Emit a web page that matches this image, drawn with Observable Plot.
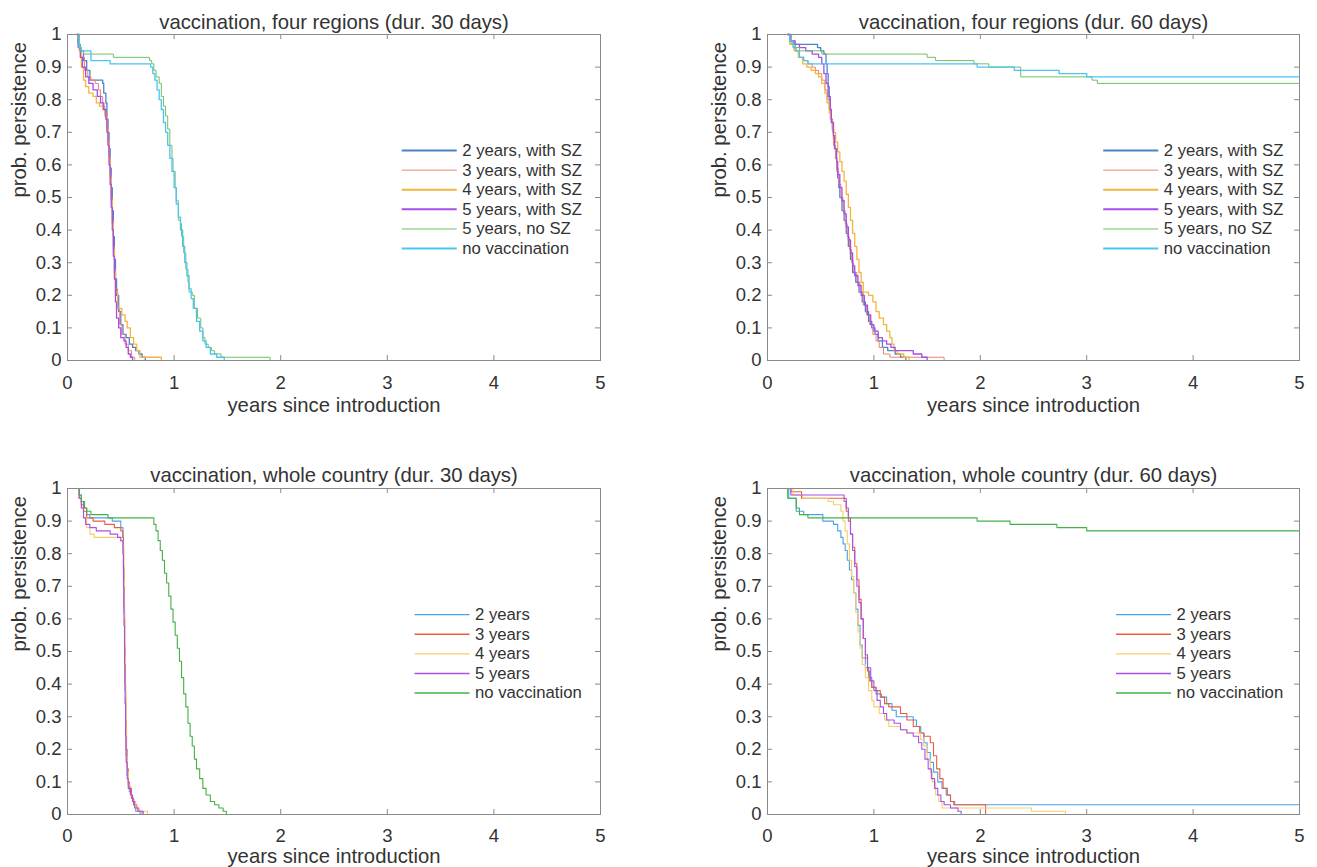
<!DOCTYPE html>
<html><head><meta charset="utf-8">
<script src="https://cdn.jsdelivr.net/npm/d3@7"></script>
<script src="https://cdn.jsdelivr.net/npm/@observablehq/plot@0.6"></script>
<style>
html,body{margin:0;padding:0;background:#fff;}
#root{position:relative;width:1317px;height:867px;overflow:hidden;font-family:"Liberation Sans",Arial,sans-serif;}
.panel{position:absolute;}
</style></head><body><div id="root"></div>
<script>
// ---------- tick values & texts ----------
const xTicks = [0, 1, 2, 3, 4, 5];
const yTicks = [0, 0.1, 0.2, 0.3, 0.4, 0.5, 0.6, 0.7, 0.8, 0.9, 1];
const panelTitles = [
  "vaccination, four regions (dur. 30 days)",
  "vaccination, four regions (dur. 60 days)",
  "vaccination, whole country (dur. 30 days)",
  "vaccination, whole country (dur. 60 days)"
];
const xLabel = "years since introduction";
const yLabel = "prob. persistence";
const regionLabels = ["2 years, with SZ", "3 years, with SZ", "4 years, with SZ", "5 years, with SZ", "5 years, no SZ", "no vaccination"];
const countryLabels = ["2 years", "3 years", "4 years", "5 years", "no vaccination"];

// ---------- series: [years, probability] step points ----------
// four regions, 30 days
const fr30_2y = [[0.09,1],[0.10,0.97],[0.12,0.95],[0.15,0.92],[0.18,0.89],[0.21,0.86],[0.33,0.85],[0.34,0.82],[0.36,0.79],[0.37,0.74],[0.38,0.70],[0.39,0.65],[0.40,0.59],[0.41,0.53],[0.42,0.46],[0.43,0.38],[0.44,0.31],[0.45,0.25],[0.46,0.20],[0.48,0.15],[0.50,0.11],[0.52,0.08],[0.55,0.07],[0.58,0.05],[0.61,0.04],[0.64,0.03],[0.67,0.02],[0.70,0.01],[0.73,0]];
const fr30_3y = [[0.09,1],[0.11,0.96],[0.13,0.93],[0.16,0.89],[0.19,0.87],[0.22,0.86],[0.26,0.85],[0.29,0.83],[0.31,0.81],[0.33,0.78],[0.35,0.76],[0.37,0.72],[0.38,0.68],[0.39,0.63],[0.40,0.57],[0.41,0.50],[0.42,0.43],[0.43,0.35],[0.44,0.28],[0.45,0.22],[0.47,0.16],[0.49,0.11],[0.51,0.08],[0.54,0.05],[0.57,0.03],[0.60,0.01],[0.63,0]];
const fr30_4y = [[0.09,1],[0.11,0.95],[0.13,0.90],[0.15,0.86],[0.17,0.84],[0.20,0.82],[0.24,0.81],[0.27,0.79],[0.30,0.78],[0.33,0.77],[0.35,0.75],[0.37,0.71],[0.38,0.67],[0.39,0.62],[0.40,0.56],[0.41,0.49],[0.42,0.42],[0.43,0.34],[0.44,0.27],[0.45,0.21],[0.47,0.16],[0.51,0.14],[0.54,0.12],[0.56,0.10],[0.59,0.07],[0.62,0.05],[0.65,0.03],[0.68,0.01],[0.88,0]];
const fr30_5y = [[0.09,1],[0.10,0.96],[0.12,0.93],[0.14,0.90],[0.17,0.87],[0.20,0.85],[0.24,0.83],[0.28,0.81],[0.31,0.79],[0.34,0.77],[0.36,0.74],[0.37,0.70],[0.38,0.66],[0.39,0.60],[0.40,0.54],[0.41,0.47],[0.42,0.40],[0.43,0.32],[0.44,0.25],[0.45,0.18],[0.46,0.13],[0.48,0.10],[0.50,0.07],[0.53,0.06],[0.55,0.04],[0.57,0.02],[0.59,0.01],[0.61,0]];
const fr30_noSZ = [[0.09,1],[0.10,0.97],[0.12,0.95],[0.15,0.94],[0.43,0.93],[0.77,0.92],[0.79,0.91],[0.81,0.89],[0.83,0.87],[0.86,0.85],[0.88,0.81],[0.90,0.78],[0.92,0.75],[0.94,0.71],[0.96,0.66],[0.98,0.62],[0.99,0.58],[1.01,0.53],[1.02,0.49],[1.04,0.43],[1.06,0.42],[1.07,0.38],[1.09,0.33],[1.11,0.28],[1.13,0.24],[1.14,0.21],[1.17,0.20],[1.19,0.16],[1.22,0.13],[1.25,0.10],[1.27,0.07],[1.29,0.05],[1.32,0.04],[1.35,0.03],[1.38,0.02],[1.44,0.01],[1.90,0]];
const fr30_none = [[0.09,1],[0.11,0.96],[0.13,0.95],[0.22,0.92],[0.40,0.91],[0.78,0.90],[0.80,0.88],[0.82,0.86],[0.84,0.83],[0.86,0.80],[0.88,0.77],[0.90,0.73],[0.92,0.70],[0.94,0.66],[0.96,0.62],[0.98,0.58],[1.00,0.53],[1.02,0.48],[1.04,0.44],[1.06,0.40],[1.08,0.35],[1.10,0.30],[1.12,0.26],[1.14,0.22],[1.16,0.19],[1.18,0.16],[1.21,0.12],[1.24,0.09],[1.27,0.06],[1.30,0.04],[1.34,0.02],[1.40,0.01],[1.47,0]];
// four regions, 60 days
const fr60_2y = [[0.19,1],[0.21,0.98],[0.25,0.97],[0.47,0.96],[0.50,0.95],[0.53,0.94],[0.55,0.91],[0.56,0.88],[0.57,0.84],[0.58,0.80],[0.59,0.77],[0.60,0.74],[0.61,0.71],[0.62,0.68],[0.63,0.65],[0.64,0.62],[0.65,0.59],[0.66,0.56],[0.67,0.53],[0.68,0.50],[0.70,0.46],[0.72,0.43],[0.74,0.39],[0.76,0.35],[0.78,0.31],[0.80,0.27],[0.83,0.24],[0.86,0.21],[0.89,0.18],[0.92,0.15],[0.95,0.12],[0.98,0.10],[1.01,0.08],[1.04,0.06],[1.08,0.04],[1.13,0.03],[1.20,0.02],[1.25,0.01],[1.30,0]];
const fr60_3y = [[0.19,1],[0.22,0.97],[0.26,0.95],[0.30,0.93],[0.34,0.92],[0.38,0.91],[0.42,0.90],[0.45,0.89],[0.48,0.88],[0.51,0.86],[0.54,0.83],[0.56,0.80],[0.58,0.77],[0.59,0.74],[0.61,0.70],[0.62,0.66],[0.64,0.62],[0.65,0.58],[0.67,0.54],[0.69,0.50],[0.71,0.46],[0.73,0.42],[0.75,0.38],[0.77,0.34],[0.79,0.30],[0.81,0.27],[0.84,0.24],[0.87,0.21],[0.90,0.17],[0.93,0.14],[0.96,0.11],[0.99,0.08],[1.02,0.06],[1.05,0.04],[1.09,0.02],[1.15,0.01],[1.66,0]];
const fr60_4y = [[0.19,1],[0.21,0.97],[0.25,0.95],[0.29,0.93],[0.33,0.91],[0.37,0.90],[0.41,0.89],[0.45,0.88],[0.48,0.87],[0.51,0.85],[0.54,0.82],[0.56,0.79],[0.58,0.76],[0.60,0.73],[0.62,0.70],[0.64,0.67],[0.66,0.64],[0.68,0.61],[0.70,0.58],[0.72,0.55],[0.74,0.51],[0.76,0.47],[0.78,0.43],[0.80,0.39],[0.82,0.35],[0.84,0.31],[0.86,0.27],[0.88,0.24],[0.90,0.21],[0.95,0.20],[0.99,0.18],[1.02,0.15],[1.05,0.13],[1.09,0.11],[1.12,0.09],[1.15,0.07],[1.17,0.05],[1.19,0.03],[1.22,0.02],[1.28,0.01],[1.33,0]];
const fr60_5y = [[0.19,1],[0.22,0.98],[0.26,0.97],[0.30,0.96],[0.36,0.95],[0.42,0.94],[0.48,0.93],[0.51,0.91],[0.53,0.88],[0.55,0.85],[0.57,0.81],[0.59,0.77],[0.60,0.73],[0.62,0.69],[0.63,0.65],[0.65,0.61],[0.66,0.57],[0.68,0.53],[0.70,0.49],[0.72,0.45],[0.74,0.41],[0.76,0.37],[0.78,0.33],[0.80,0.29],[0.82,0.26],[0.85,0.23],[0.88,0.20],[0.91,0.17],[0.94,0.14],[0.97,0.11],[1.00,0.09],[1.04,0.07],[1.08,0.06],[1.12,0.05],[1.16,0.04],[1.20,0.03],[1.37,0.02],[1.45,0.01],[1.50,0]];
const fr60_noSZ = [[0.19,1],[0.21,0.98],[0.23,0.97],[0.26,0.96],[0.30,0.95],[0.51,0.94],[1.50,0.93],[1.58,0.92],[1.94,0.91],[2.08,0.90],[2.38,0.87],[3.05,0.86],[3.10,0.85],[5,0.85]];
const fr60_none = [[0.19,1],[0.21,0.98],[0.24,0.96],[0.27,0.95],[0.30,0.93],[0.34,0.92],[0.38,0.91],[1.97,0.90],[2.32,0.89],[2.74,0.88],[3.00,0.87],[5,0.87]];
// whole country, 30 days
const wc30_2y = [[0.09,1],[0.11,0.98],[0.13,0.96],[0.15,0.94],[0.18,0.92],[0.21,0.91],[0.42,0.90],[0.50,0.88],[0.52,0.85],[0.525,0.75],[0.53,0.62],[0.535,0.50],[0.54,0.38],[0.545,0.27],[0.55,0.18],[0.56,0.12],[0.57,0.09],[0.58,0.07],[0.60,0.05],[0.62,0.03],[0.64,0.01],[0.68,0]];
const wc30_3y = [[0.09,1],[0.11,0.97],[0.13,0.95],[0.15,0.93],[0.18,0.91],[0.24,0.90],[0.35,0.89],[0.44,0.88],[0.50,0.87],[0.52,0.85],[0.525,0.76],[0.53,0.64],[0.535,0.52],[0.54,0.40],[0.545,0.29],[0.55,0.20],[0.56,0.14],[0.57,0.10],[0.58,0.08],[0.60,0.05],[0.62,0.03],[0.65,0.02],[0.67,0.01],[0.70,0]];
const wc30_4y = [[0.09,1],[0.11,0.97],[0.13,0.94],[0.15,0.91],[0.18,0.88],[0.21,0.86],[0.25,0.85],[0.50,0.84],[0.52,0.82],[0.53,0.72],[0.535,0.60],[0.54,0.48],[0.545,0.36],[0.55,0.26],[0.555,0.18],[0.56,0.13],[0.57,0.09],[0.59,0.06],[0.61,0.04],[0.64,0.02],[0.67,0.01],[0.75,0]];
const wc30_5y = [[0.09,1],[0.11,0.97],[0.13,0.94],[0.15,0.91],[0.17,0.89],[0.21,0.88],[0.27,0.87],[0.40,0.86],[0.47,0.85],[0.50,0.84],[0.52,0.80],[0.525,0.70],[0.53,0.58],[0.535,0.46],[0.54,0.34],[0.545,0.24],[0.55,0.16],[0.56,0.11],[0.57,0.08],[0.59,0.06],[0.61,0.04],[0.63,0.02],[0.66,0.01],[0.71,0]];
const wc30_none = [[0.09,1],[0.11,0.98],[0.13,0.96],[0.16,0.94],[0.18,0.93],[0.22,0.92],[0.38,0.91],[0.81,0.89],[0.83,0.87],[0.85,0.84],[0.87,0.81],[0.89,0.78],[0.91,0.74],[0.93,0.71],[0.95,0.67],[0.97,0.63],[0.99,0.59],[1.01,0.55],[1.03,0.51],[1.05,0.47],[1.07,0.42],[1.09,0.37],[1.11,0.33],[1.13,0.28],[1.15,0.24],[1.17,0.21],[1.19,0.17],[1.21,0.14],[1.24,0.11],[1.27,0.08],[1.30,0.06],[1.34,0.04],[1.38,0.03],[1.42,0.02],[1.46,0.01],[1.49,0]];
// whole country, 60 days
const wc60_2y = [[0.18,1],[0.20,0.97],[0.27,0.93],[0.34,0.92],[0.52,0.90],[0.62,0.89],[0.66,0.87],[0.69,0.85],[0.71,0.83],[0.73,0.81],[0.75,0.78],[0.77,0.75],[0.79,0.72],[0.81,0.68],[0.83,0.63],[0.85,0.58],[0.87,0.52],[0.89,0.48],[0.92,0.45],[0.95,0.42],[0.98,0.39],[1.02,0.37],[1.07,0.36],[1.12,0.34],[1.17,0.32],[1.21,0.30],[1.37,0.29],[1.40,0.27],[1.44,0.25],[1.47,0.22],[1.50,0.19],[1.53,0.16],[1.56,0.13],[1.60,0.10],[1.64,0.08],[1.68,0.06],[1.72,0.04],[1.76,0.03],[5,0.03]];
const wc60_3y = [[0.18,1],[0.22,0.99],[0.32,0.97],[0.72,0.96],[0.74,0.93],[0.76,0.90],[0.78,0.86],[0.80,0.82],[0.82,0.77],[0.84,0.72],[0.86,0.66],[0.88,0.60],[0.90,0.54],[0.92,0.48],[0.94,0.44],[0.96,0.41],[0.98,0.39],[1.02,0.38],[1.06,0.36],[1.10,0.34],[1.14,0.33],[1.25,0.31],[1.31,0.29],[1.37,0.27],[1.43,0.25],[1.47,0.24],[1.53,0.22],[1.56,0.18],[1.59,0.14],[1.62,0.11],[1.65,0.08],[1.69,0.06],[1.72,0.04],[1.75,0.03],[2.05,0]];
const wc60_4y = [[0.18,1],[0.24,0.98],[0.33,0.97],[0.57,0.96],[0.62,0.95],[0.69,0.93],[0.71,0.90],[0.73,0.87],[0.75,0.83],[0.77,0.78],[0.79,0.73],[0.81,0.68],[0.83,0.62],[0.85,0.56],[0.87,0.51],[0.89,0.46],[0.92,0.42],[0.95,0.38],[0.98,0.35],[1.00,0.33],[1.05,0.31],[1.10,0.29],[1.14,0.27],[1.25,0.26],[1.31,0.25],[1.44,0.23],[1.47,0.21],[1.50,0.17],[1.53,0.13],[1.55,0.10],[1.58,0.06],[1.61,0.04],[1.64,0.02],[2.48,0.01],[2.80,0]];
const wc60_5y = [[0.18,1],[0.22,0.98],[0.72,0.97],[0.74,0.94],[0.76,0.91],[0.78,0.86],[0.80,0.81],[0.82,0.76],[0.84,0.70],[0.86,0.65],[0.88,0.60],[0.90,0.54],[0.92,0.49],[0.94,0.45],[0.97,0.41],[1.00,0.38],[1.03,0.35],[1.06,0.33],[1.09,0.31],[1.12,0.29],[1.19,0.28],[1.25,0.26],[1.31,0.25],[1.37,0.24],[1.42,0.22],[1.45,0.20],[1.48,0.17],[1.51,0.14],[1.54,0.11],[1.57,0.08],[1.60,0.06],[1.63,0.04],[1.66,0.03],[1.72,0.02],[1.79,0.01],[1.82,0]];
const wc60_none = [[0.18,1],[0.19,0.97],[0.27,0.94],[0.30,0.92],[0.38,0.91],[1.97,0.90],[2.28,0.89],[2.72,0.88],[3.00,0.87],[5,0.87]];

// ---------- styles ----------
const regionColors = ["#4a83cc", "#ef8373", "#f5b53c", "#a54ee8", "#6fc063", "#4cc4f2"];
const regionWidths = [1.3, 1, 1.3, 1.3, 1, 1.3];
const regionLegendWidths = [2, 1, 2, 2, 1, 2];
const countryColors = ["#48a2ea", "#ee5b3e", "#f8cd6a", "#a650ee", "#45b045"];
const countryWidths = [1.1, 1.1, 1.1, 1.1, 1.1];
const countryLegendWidths = [1.4, 1.4, 1.4, 1.4, 1.4];

const FONT = "Liberation Sans, Arial, Helvetica, sans-serif";
const TEXT = "#333333";
const AXIS = "#8a8a8a";

const panels = [
  {title: panelTitles[0], labels: regionLabels, series: [fr30_2y, fr30_3y, fr30_4y, fr30_5y, fr30_noSZ, fr30_none],
   colors: regionColors, widths: regionWidths, legW: regionLegendWidths,
   left: 0, top: 0, width: 657, height: 420, mL: 67, mR: 57, mT: 34, mB: 60, legX: 3.14, legY: 0.644, titleDy: -12, xlabDy: 45, tickPad: 15},
  {title: panelTitles[1], labels: regionLabels, series: [fr60_2y, fr60_3y, fr60_4y, fr60_5y, fr60_noSZ, fr60_none],
   colors: regionColors, widths: regionWidths, legW: regionLegendWidths,
   left: 660, top: 0, width: 657, height: 420, mL: 107, mR: 18, mT: 34, mB: 60, legX: 3.16, legY: 0.644, titleDy: -12, xlabDy: 45, tickPad: 15},
  {title: panelTitles[2], labels: countryLabels, series: [wc30_2y, wc30_3y, wc30_4y, wc30_5y, wc30_none],
   colors: countryColors, widths: countryWidths, legW: countryLegendWidths,
   left: 0, top: 450, width: 657, height: 417, mL: 67, mR: 57, mT: 38, mB: 53, legX: 3.26, legY: 0.613, titleDy: -13, xlabDy: 42, tickPad: 14},
  {title: panelTitles[3], labels: countryLabels, series: [wc60_2y, wc60_3y, wc60_4y, wc60_5y, wc60_none],
   colors: countryColors, widths: countryWidths, legW: countryLegendWidths,
   left: 660, top: 450, width: 657, height: 417, mL: 107, mR: 18, mT: 38, mB: 53, legX: 3.28, legY: 0.613, titleDy: -13, xlabDy: 42, tickPad: 14}
];

const root = document.getElementById("root");
const fmt = d3.format("~g");

for (const P of panels) {
  const plotW = P.width - P.mL - P.mR;
  const plotH = P.height - P.mT - P.mB;
  const tickX = 5 * 5 / plotW;   // 5 px in x data units
  const tickY = 5 * 1 / plotH;   // 5 px in y data units
  const legLen = 55 * 5 / plotW; // legend sample length
  const legGap = 5 * 5 / plotW;
  const legStep = 19.6 / plotH;

  const marks = [];
  // ticks inside, on all four sides
  marks.push(Plot.ruleX(xTicks, {x: d => d, y1: 0, y2: tickY, stroke: AXIS}));
  marks.push(Plot.ruleX(xTicks, {x: d => d, y1: 1, y2: 1 - tickY, stroke: AXIS}));
  marks.push(Plot.ruleY(yTicks, {y: d => d, x1: 0, x2: tickX, stroke: AXIS}));
  marks.push(Plot.ruleY(yTicks, {y: d => d, x1: 5, x2: 5 - tickX, stroke: AXIS}));
  // curves
  P.series.forEach((pts, i) => {
    const rows = pts.map(([t, p]) => ({t, p, s: P.labels[i]}));
    marks.push(Plot.line(rows, {x: "t", y: "p", stroke: "s", strokeWidth: P.widths[i], curve: "step-after"}));
  });
  // frame
  marks.push(Plot.frame({stroke: AXIS, strokeWidth: 1}));
  // axes
  marks.push(Plot.axisX(xTicks, {tickSize: 0, tickPadding: P.tickPad, fontSize: 18.5, color: TEXT, label: null}));
  marks.push(Plot.axisY(yTicks, {tickSize: 0, tickPadding: 6, fontSize: 18.5, color: TEXT, label: null, tickFormat: fmt}));
  // titles
  marks.push(Plot.text([P.title], {text: d => d, frameAnchor: "top", dy: P.titleDy, lineAnchor: "middle", fontSize: 20.3, fill: TEXT}));
  marks.push(Plot.text([xLabel], {text: d => d, frameAnchor: "bottom", dy: P.xlabDy, lineAnchor: "middle", fontSize: 20.3, fill: TEXT}));
  marks.push(Plot.text([yLabel], {text: d => d, frameAnchor: "left", dx: -48, rotate: -90, lineAnchor: "middle", fontSize: 20.3, fill: TEXT}));
  // legend
  P.labels.forEach((s, i) => {
    const row = [{s, y: P.legY - i * legStep}];
    marks.push(Plot.ruleY(row, {y: "y", x1: P.legX, x2: P.legX + legLen, stroke: "s", strokeWidth: P.legW[i]}));
    marks.push(Plot.text(row, {y: "y", x: P.legX + legLen + legGap, text: "s", textAnchor: "start", lineAnchor: "middle", fontSize: 16.7, fill: TEXT}));
  });

  const chart = Plot.plot({
    width: P.width,
    height: P.height,
    marginLeft: P.mL, marginRight: P.mR, marginTop: P.mT, marginBottom: P.mB,
    style: {fontFamily: FONT, background: "white", overflow: "visible"},
    x: {domain: [0, 5]},
    y: {domain: [0, 1]},
    color: {domain: P.labels, range: P.colors},
    marks
  });
  chart.classList.add("panel");
  chart.style.left = P.left + "px";
  chart.style.top = P.top + "px";
  root.appendChild(chart);
}
</script></body></html>
